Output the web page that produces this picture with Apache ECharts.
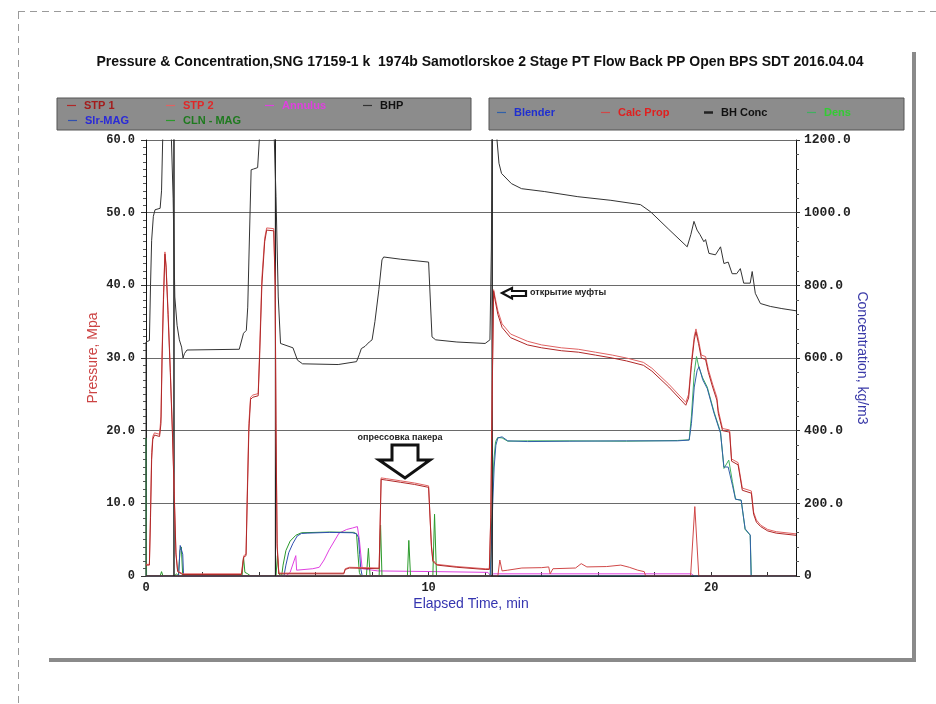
<!DOCTYPE html>
<html>
<head>
<meta charset="utf-8">
<title>Pressure & Concentration</title>
<script src="https://cdn.jsdelivr.net/npm/echarts@6/dist/echarts.min.js"></script>
<style>
  html, body { margin: 0; padding: 0; background: #fff; }
  #main { width: 936px; height: 704px; }
</style>
</head>
<body>
<div id="main"></div>
<script>
// ---- data, [time min, value] ----
var stp1 = [[0,1.5],[0.12,1.5],[0.16,8],[0.2,16],[0.24,18.8],[0.3,19.4],[0.48,19.2],[0.53,21],[0.57,30],[0.62,38],[0.67,44.3],[0.71,42.5],[0.78,36],[0.86,28],[0.94,19],[1.0,11],[1.06,3],[1.12,0.6],[1.3,0.2],[3.38,0.2],[3.42,1.5],[3.46,2.6],[3.54,2.8],[3.58,10],[3.64,20],[3.7,24.3],[3.78,24.6],[3.97,24.8],[4.02,30],[4.1,40],[4.2,46],[4.27,47.6],[4.52,47.5],[4.57,40],[4.6,20],[4.64,4],[4.7,0.3],[7.0,0.3],[7.05,0.9],[7.2,1.1],[8.25,1.0],[8.32,13.3],[8.5,13.2],[9.0,12.9],[9.5,12.6],[10.0,12.2],[10.05,12.1],[10.1,4],[10.15,2.0],[10.3,1.5],[11.0,1.2],[12.0,0.9],[12.15,0.9],[12.2,8],[12.25,25],[12.3,39.2],[12.35,38],[12.45,36],[12.6,34.2],[12.9,32.8],[13.5,31.8],[14.0,31.4],[14.7,31.0],[15.3,30.8],[15.9,30.4],[16.5,30.0],[17.0,29.6],[17.6,29.0],[17.9,28.2],[18.5,26],[19.1,23.5],[19.2,24.5],[19.3,29],[19.4,32.5],[19.46,33.6],[19.55,32],[19.65,30.0],[19.8,29.8],[19.9,28],[20.05,26],[20.2,24.2],[20.25,22.4],[20.4,20],[20.65,19.8],[20.72,15.8],[20.95,15.3],[21.1,11.8],[21.42,11.4],[21.5,8.5],[21.6,7.4],[21.75,6.8],[22.0,6.2],[22.3,5.9],[23,5.6]];
var stp2 = [[0,1.6],[0.12,1.6],[0.16,9],[0.2,17],[0.24,19.2],[0.3,19.7],[0.48,19.5],[0.53,22],[0.57,31],[0.62,39],[0.67,44.6],[0.71,42.8],[0.78,36.5],[0.86,28.5],[0.94,19.5],[1.0,11.5],[1.06,3.2],[1.12,0.7],[1.3,0.3],[3.38,0.3],[3.42,1.7],[3.46,2.8],[3.54,3],[3.58,11],[3.64,21],[3.7,24.6],[3.78,24.9],[3.97,25.1],[4.02,31],[4.1,41],[4.2,46.5],[4.27,47.9],[4.52,47.8],[4.57,40.5],[4.6,21],[4.64,4.5],[4.7,0.4],[7.0,0.4],[7.05,1.0],[7.2,1.2],[8.25,1.1],[8.32,13.5],[8.5,13.4],[9.0,13.1],[9.5,12.8],[10.0,12.4],[10.05,12.3],[10.1,4.2],[10.15,2.2],[10.3,1.6],[11.0,1.3],[12.0,1.0],[12.15,1.0],[12.2,8.5],[12.25,26],[12.3,39.4],[12.35,38.4],[12.45,36.5],[12.6,34.7],[12.9,33.3],[13.5,32.3],[14.0,31.8],[14.7,31.4],[15.3,31.2],[15.9,30.8],[16.5,30.4],[17.0,30.0],[17.6,29.4],[17.9,28.6],[18.5,26.4],[19.1,23.9],[19.2,25],[19.3,29.5],[19.4,33],[19.46,34],[19.55,32.5],[19.65,30.4],[19.8,30.2],[19.9,28.4],[20.05,26.4],[20.2,24.6],[20.25,22.8],[20.4,20.3],[20.65,20.1],[20.72,16.1],[20.95,15.6],[21.1,12.1],[21.42,11.7],[21.5,8.8],[21.6,7.7],[21.75,7.0],[22.0,6.4],[22.3,6.1],[23,5.8]];
var annulus = [[0,0],[4.95,0],[5.1,0.5],[5.3,2.8],[5.33,0.8],[5.9,1.0],[6.13,1.2],[6.3,2.2],[6.48,3.6],[6.83,5.9],[7.1,6.4],[7.3,6.6],[7.48,6.8],[7.55,5],[7.65,1],[7.7,0.8],[8.2,0.7],[10.3,0.6],[12.1,0.5],[12.2,0],[12.3,0.3],[19.3,0.3],[19.4,0],[23,0]];
var bhp = [[0,0],[0,32.2],[0.12,32.4],[0.16,40],[0.2,46.2],[0.26,49.5],[0.32,50.4],[0.5,50.6],[0.55,53],[0.59,60],[0.62,66],[0.87,66],[0.9,60],[0.96,52],[1.02,38.4],[1.1,34.5],[1.18,32.5],[1.26,31.5],[1.31,30.0],[1.36,30.6],[1.45,31.1],[3.3,31.2],[3.45,33.4],[3.55,33.8],[3.6,37],[3.65,45],[3.72,55.9],[3.8,56],[3.95,56.2],[4.01,60],[4.05,66],[4.5,66],[4.54,60],[4.6,52.2],[4.68,38.4],[4.76,32],[5.2,31.4],[5.36,29.7],[5.54,29.2],[6.8,29.1],[7.45,29.5],[7.55,30.5],[7.62,31.3],[7.75,31.6],[7.9,32.2],[8.0,32.5],[8.1,35],[8.24,39.4],[8.35,43.5],[8.41,43.9],[9.0,43.6],[10.0,43.2],[10.12,32.9],[10.25,32.5],[11.0,32.2],[12.0,32.0],[12.17,32.5],[12.22,45],[12.26,66],[12.38,66],[12.42,60],[12.49,56.8],[12.58,55.4],[12.93,54.0],[13.29,53.3],[14.11,52.9],[15.28,52.2],[16.45,51.7],[17.5,51.1],[17.86,50.1],[18.5,47.7],[19.15,45.3],[19.28,47],[19.39,48.8],[19.5,47.6],[19.6,47],[19.74,46.0],[19.8,46.3],[19.92,44.4],[20.15,44.2],[20.33,45.3],[20.45,43.0],[20.6,43.2],[20.74,41.6],[20.9,41.6],[21.03,42.3],[21.15,40.3],[21.38,40.3],[21.45,41.9],[21.56,38.9],[21.74,37.5],[22.09,37.1],[22.5,36.8],[23,36.5]];
var slrMag = [[0,0],[1.15,0],[1.18,2],[1.21,4.2],[1.27,4.4],[1.3,3],[1.33,0],[4.88,0],[4.95,1.5],[5.05,3.2],[5.2,4.5],[5.35,5.5],[5.5,5.85],[5.7,5.9],[6.5,6.0],[7.3,5.95],[7.45,5.8],[7.52,5.3],[7.56,3],[7.6,1],[7.65,0],[23,0]];
var clnMag = [[0,0],[0.5,0],[0.55,0.6],[0.6,0],[1.0,0],[1.08,0.3],[1.15,0],[1.2,3.5],[1.25,4.0],[1.3,0],[1.45,0.2],[3.4,0],[3.45,2.6],[3.5,0.5],[3.6,0.3],[3.7,0],[4.6,0],[4.65,2.8],[4.7,0.3],[4.8,0],[4.85,1.5],[4.95,3.5],[5.1,4.8],[5.3,5.6],[5.5,5.95],[6.5,6.05],[7.35,6.0],[7.45,5.8],[7.5,3],[7.55,0.5],[7.6,0],[7.8,0],[7.87,3.8],[7.93,0],[8.25,0],[8.3,7.0],[8.35,0],[9.25,0],[9.3,4.9],[9.36,0],[10.15,0],[10.21,8.5],[10.28,0],[23,0]];
var blender = [[0,0],[12.18,0],[12.22,80],[12.27,200],[12.32,300],[12.38,360],[12.45,380],[12.6,383],[12.8,372],[13.5,370],[15,371],[17,372],[18.8,372],[19.22,374],[19.3,420],[19.4,520],[19.5,565],[19.57,576],[19.7,540],[19.86,516],[20.1,448],[20.33,393],[20.45,300],[20.6,300],[20.75,250],[20.86,211],[21.06,209],[21.2,130],[21.38,113],[21.41,0],[23,0]];
var calcProp = [[0,0],[12.45,0],[12.52,44],[12.6,14],[12.8,16],[13.3,22],[14.0,23],[14.25,25],[14.3,6],[14.4,20],[15.2,22],[15.4,34],[15.6,25],[16.3,26],[16.8,30],[17.1,24],[17.4,16],[17.63,12],[17.68,0],[19.27,0],[19.42,191],[19.56,0],[23,0]];
var bhConc = [[0,0],[0.99,0],[0.99,1300],[0.99,0],[4.58,0],[4.58,1300],[4.58,0],[12.25,0],[12.25,1300],[12.25,0],[23,0]];
var dens = [[0,0],[0,380],[0.02,0],[12.18,0],[12.21,100],[12.26,230],[12.31,320],[12.37,370],[12.44,381],[12.6,380],[12.8,371],[13.5,372],[15,372],[17,371],[18.8,373],[19.22,375],[19.3,440],[19.4,560],[19.48,604],[19.56,575],[19.7,545],[19.86,520],[20.1,452],[20.33,396],[20.45,296],[20.62,319],[20.75,260],[20.86,212],[21.06,208],[21.2,128],[21.38,112],[21.42,0],[23,0]];

var myChart = echarts.init(document.getElementById("main"));

function line(name, data, color, yAxisIndex) {
  return {
    name: name,
    type: "line",
    data: data,
    yAxisIndex: yAxisIndex,
    showSymbol: false,
    symbol: "none",
    color: color,
    lineStyle: { color: color, width: 1 },
    emphasis: { disabled: true },
    animation: false
  };
}

// legend items: name, icon left, top, text colour
var legendSlots = [
  ["STP 1", 67, 100, "#a31c1c"],
  ["STP 2", 166, 100, "#e02828"],
  ["Annulus", 265, 100, "#e040e0"],
  ["BHP", 363, 100, "#111"],
  ["Slr-MAG", 68, 115, "#2a2ad8"],
  ["CLN - MAG", 166, 115, "#1e7a1e"],
  ["Blender", 497, 107, "#1f2fd0"],
  ["Calc Prop", 601, 107, "#e02020"],
  ["BH Conc", 704, 107, "#111"],
  ["Dens", 807, 107, "#33cc33"]
];

var monoFont = "'Liberation Mono', 'Courier New', monospace";
var sansFont = "'Liberation Sans', Arial, sans-serif";

function numLabel(v) {
  return v === 0 ? "0" : v.toFixed(1);
}

option = {
  backgroundColor: "#fff",
  animation: false,
  grid: {
    left: 146,
    right: 140,
    top: 140,
    bottom: 128,
    containLabel: false,
    outerBoundsMode: "none"
  },
  legend: legendSlots.map(function (s) {
    return {
      data: [{ name: s[0], textStyle: { color: s[3] } }],
      left: s[1],
      top: s[2],
      padding: 0,
      icon: "rect",
      itemWidth: 9,
      itemHeight: s[0] === "BH Conc" ? 2.5 : 1.2,
      selectedMode: false,
      z: 10,
      textStyle: {
        fontFamily: sansFont,
        fontWeight: "bold",
        fontSize: 11,
        padding: [0, 0, 0, 3]
      }
    };
  }),
  xAxis: {
    type: "value",
    min: 0,
    max: 23,
    interval: 2,
    name: "Elapsed Time, min",
    nameLocation: "middle",
    nameGap: 21,
    nameMoveOverlap: false,
    nameTextStyle: { color: "#3535b0", fontSize: 14, fontFamily: sansFont },
    axisLine: { lineStyle: { color: "#111", width: 1 } },
    axisTick: { inside: true, length: 4, lineStyle: { color: "#333" } },
    splitLine: { show: false },
    axisLabel: {
      formatter: function (v) { return v % 10 === 0 ? String(v) : ""; },
      color: "#222",
      fontFamily: monoFont,
      fontWeight: "bold",
      fontSize: 12,
      margin: 6,
      showMaxLabel: false
    }
  },
  yAxis: [
    {
      type: "value",
      min: 0,
      max: 60,
      interval: 10,
      name: "Pressure, Mpa",
      nameLocation: "middle",
      nameGap: 46,
      nameRotate: 90,
      nameMoveOverlap: false,
      nameTextStyle: { color: "#cc4444", fontSize: 14, fontFamily: sansFont },
      axisLine: { show: true, lineStyle: { color: "#111" } },
      axisTick: { show: true, length: 5, lineStyle: { color: "#333" } },
      minorTick: { show: true, splitNumber: 10, length: 3, lineStyle: { color: "#555" } },
      splitLine: { show: true, lineStyle: { color: "#6a6a6a", width: 1 } },
      axisLabel: {
        formatter: numLabel,
        color: "#222",
        fontFamily: monoFont,
        fontWeight: "bold",
        fontSize: 12,
        margin: 11
      }
    },
    {
      type: "value",
      position: "right",
      min: 0,
      max: 1200,
      interval: 200,
      name: "Concentration, kg/m3",
      nameLocation: "middle",
      nameGap: 59,
      nameRotate: -90,
      nameMoveOverlap: false,
      nameTextStyle: { color: "#3a3aa8", fontSize: 14, fontFamily: sansFont },
      axisLine: { show: true, lineStyle: { color: "#111" } },
      axisTick: { show: true, length: 4, lineStyle: { color: "#333" } },
      minorTick: { show: true, splitNumber: 5, length: 3, lineStyle: { color: "#555" } },
      splitLine: { show: false },
      axisLabel: {
        formatter: numLabel,
        color: "#222",
        fontFamily: monoFont,
        fontWeight: "bold",
        fontSize: 13,
        margin: 8
      }
    }
  ],
  series: [
    line("Annulus", annulus, "#e040e0", 0),
    line("CLN - MAG", clnMag, "#2a9a2a", 0),
    line("Slr-MAG", slrMag, "#3050b0", 0),
    line("Dens", dens, "#40b060", 1),
    line("Blender", blender, "#3060a8", 1),
    line("Calc Prop", calcProp, "#d04848", 1),
    line("BH Conc", bhConc, "#222", 1),
    line("BHP", bhp, "#333", 0),
    line("STP 2", stp2, "#e06262", 0),
    line("STP 1", stp1, "#b02828", 0)
  ],
  graphic: [
    // dashed page border
    { type: "line", z: 0, shape: { x1: 18, y1: 11.5, x2: 936, y2: 11.5 },
      style: { stroke: "#9a9a9a", lineWidth: 1, lineDash: [7, 5] } },
    { type: "line", z: 0, shape: { x1: 18.5, y1: 12, x2: 18.5, y2: 704 },
      style: { stroke: "#9a9a9a", lineWidth: 1, lineDash: [7, 5] } },
    // panel shadow
    { type: "line", z: 0, shape: { x1: 914, y1: 52, x2: 914, y2: 662 },
      style: { stroke: "#8a8a8a", lineWidth: 4 } },
    { type: "line", z: 0, shape: { x1: 49, y1: 660, x2: 916, y2: 660 },
      style: { stroke: "#8a8a8a", lineWidth: 4 } },
    // legend boxes
    { type: "rect", z: 1, shape: { x: 57, y: 98, width: 414, height: 32 },
      style: { fill: "#8c8c8c", stroke: "#555", lineWidth: 1 } },
    { type: "rect", z: 1, shape: { x: 489, y: 98, width: 415, height: 32 },
      style: { fill: "#8c8c8c", stroke: "#555", lineWidth: 1 } },
    // title
    { type: "text", z: 5, style: {
        text: "Pressure & Concentration,SNG 17159-1 k  1974b Samotlorskoe 2 Stage PT Flow Back PP Open BPS SDT 2016.04.04",
        x: 480, y: 62, align: "center", verticalAlign: "middle",
        fontFamily: sansFont, fontWeight: "bold", fontSize: 14, fill: "#111" } },
    // annotation: packer test
    { type: "text", z: 20, style: {
        text: "опрессовка пакера", x: 400, y: 438, align: "center", verticalAlign: "middle",
        fontFamily: sansFont, fontWeight: "bold", fontSize: 9, fill: "#222" } },
    { type: "polygon", z: 20, shape: { points: [[392,445],[418,445],[418,460],[430,460],[405,478],[379,460],[392,460]] },
      style: { fill: "#fff", stroke: "#111", lineWidth: 3, lineJoin: "miter" } },
    // annotation: sleeve opening
    { type: "polygon", z: 20, shape: { points: [[502,293],[512,288],[512,291],[526,291],[526,296],[512,296],[512,298.5]] },
      style: { fill: "#fff", stroke: "#111", lineWidth: 2.2, lineJoin: "miter" } },
    { type: "text", z: 20, style: {
        text: "открытие муфты", x: 530, y: 293, align: "left", verticalAlign: "middle",
        fontFamily: sansFont, fontWeight: "bold", fontSize: 9, fill: "#222" } }
  ]
};

myChart.setOption(option);
</script>
</body>
</html>
